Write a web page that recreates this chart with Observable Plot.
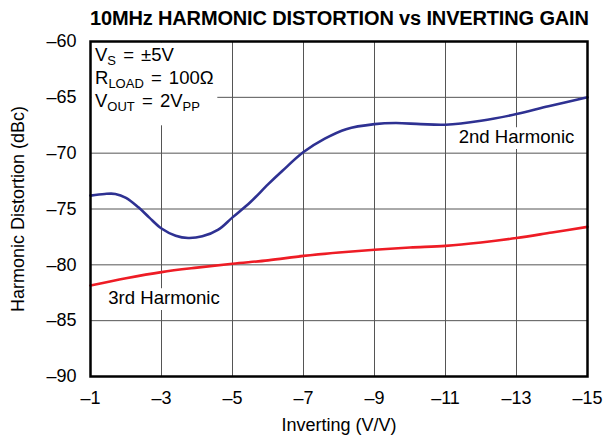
<!DOCTYPE html>
<html><head><meta charset="utf-8">
<script src="https://cdn.jsdelivr.net/npm/d3@7"></script>
<script src="https://cdn.jsdelivr.net/npm/@observablehq/plot@0.6"></script>
<style>
body{margin:0;background:#fff;font-family:"Liberation Sans",Arial,Helvetica,sans-serif;}
#title{width:604px;height:32px;box-sizing:border-box;padding:7px 17px 0 90px;text-align:center;font-weight:bold;font-size:20px;letter-spacing:-0.15px;white-space:nowrap;line-height:22px;color:#000;}
</style></head><body>
<div id="title">10MHz HARMONIC DISTORTION vs INVERTING GAIN</div>
<div id="chart"></div>
<script>
// 2nd harmonic (blue)
const gain2 = [-1,-1.4,-1.7,-2.0,-2.35,-2.65,-3.0,-3.4,-3.75,-4.15,-4.6,-5.0,-5.5,-6.0,-6.4,-7.0,-7.6,-8.2,-9.0,-9.6,-10.3,-11.0,-12.0,-13.0,-13.9,-15];
const hd2   = [-73.8,-73.65,-73.65,-74.0,-74.85,-75.75,-76.75,-77.4,-77.6,-77.45,-76.85,-75.75,-74.4,-72.8,-71.6,-69.9,-68.7,-67.85,-67.4,-67.3,-67.4,-67.45,-67.1,-66.5,-65.8,-65.0];
// 3rd harmonic (red)
const gain3 = [-1,-2,-3,-4,-5,-6,-7,-8,-9,-10,-11,-12,-13,-14,-15];
const hd3   = [-81.85,-81.2,-80.65,-80.25,-79.9,-79.6,-79.2,-78.9,-78.65,-78.45,-78.3,-78.0,-77.6,-77.1,-76.6];

const xDomain = [-1,-15];
const yDomain = [-90,-60];
const xTicks = [-1,-3,-5,-7,-9,-11,-13,-15];
const yTicks = [-90,-85,-80,-75,-70,-65,-60];
const xLabel = "Inverting (V/V)";
const yLabel = "Harmonic Distortion (dBc)";
const seriesNames = ["2nd Harmonic","3rd Harmonic"];
const seriesLabelX = [-13,-3.07];
const seriesLabelY = [-68.6,-83.0];
const noteLines = [
  [["V",0],["S",1],[" = ±5V",0]],
  [["R",0],["LOAD",1],[" = 100Ω",0]],
  [["V",0],["OUT",1],[" = 2V",0],["PP",1]]
];

const s2 = gain2.map((g,i)=>({g, v:hd2[i]}));
const s3 = gain3.map((g,i)=>({g, v:hd3[i]}));
const lbls = seriesNames.map((t,i)=>({t, g:seriesLabelX[i], v:seriesLabelY[i]}));
const fmt = d => d < 0 ? "\u2013" + Math.abs(d) : String(d);
const FONT = '"Liberation Sans",Arial,Helvetica,sans-serif';

const plot = Plot.plot({
  width:604, height:408,
  marginTop:9, marginBottom:64, marginLeft:90, marginRight:17,
  style:{fontFamily:FONT, fontSize:"18px", background:"white", color:"black"},
  x:{domain:xDomain, ticks:xTicks, tickFormat:fmt, tickSize:0, tickPadding:15, label:null},
  y:{domain:yDomain, ticks:yTicks, tickFormat:fmt, tickSize:0, tickPadding:14, label:null},
  marks:[
    Plot.gridX(xTicks.slice(1,-1), {stroke:"#555", strokeOpacity:1, strokeWidth:1}),
    Plot.gridY(yTicks.slice(1,-1), {stroke:"#555", strokeOpacity:1, strokeWidth:1}),
    Plot.text(lbls, {x:"g", y:"v", text:"t", fontSize:18.6, fill:"black", stroke:"white", strokeWidth:12, textAnchor:"middle", lineAnchor:"middle"}),
    Plot.line(s2, {x:"g", y:"v", curve:"catmull-rom", stroke:"#2e3192", strokeWidth:2.6}),
    Plot.line(s3, {x:"g", y:"v", curve:"catmull-rom", stroke:"#ee1c25", strokeWidth:2.6}),
    Plot.text([xLabel], {frameAnchor:"bottom", dy:49, textAnchor:"middle", lineAnchor:"middle", fontSize:18, fill:"black"}),
    Plot.text([yLabel], {frameAnchor:"left", dx:-72, rotate:-90, textAnchor:"middle", lineAnchor:"middle", fontSize:18, fill:"black"}),
    Plot.frame({stroke:"black", strokeWidth:2.5})
  ]
});

// annotation box (subscripted text), positioned from the scales
const sx = plot.scale("x"), sy = plot.scale("y");
const x0 = sx.apply(xDomain[0]), y0 = sy.apply(yDomain[1]);
const frameNode = plot.querySelector("[aria-label=frame]");
const g = d3.create("svg:g").attr("font-family", FONT).attr("fill","black").attr("text-anchor","start");
g.append("rect").attr("x", x0+1.3).attr("y", y0+1.3).attr("width",126).attr("height",83).attr("fill","white");
noteLines.forEach((parts,i)=>{
  const t = g.append("text").attr("x", x0+5).attr("y", y0+20+i*23).attr("font-size",18.5)
    .attr("text-anchor","start").attr("word-spacing","2px");
  let shift = 0;
  parts.forEach(([s,sub])=>{
    const target = sub ? 4 : 0;
    t.append("tspan").attr("dy", target-shift).attr("font-size", sub?13:18.5).text(s);
    shift = target;
  });
});
if (frameNode) plot.insertBefore(g.node(), frameNode); else plot.appendChild(g.node());
document.getElementById("chart").appendChild(plot);
</script>
</body></html>
